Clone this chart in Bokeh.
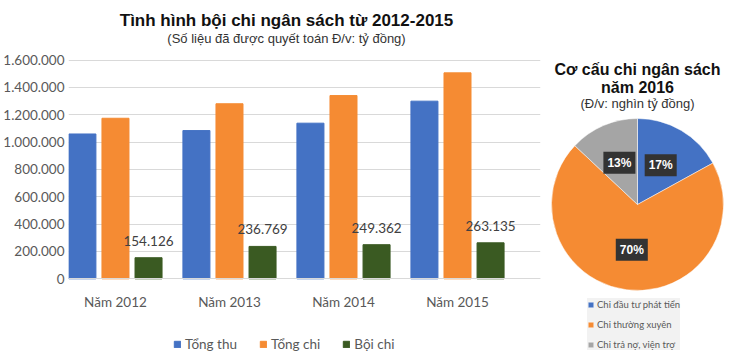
import math
from bokeh.plotting import figure
from bokeh.models import (ColumnDataSource, FixedTicker, CustomJSTickFormatter, Label,
                          LabelSet, Legend, LegendItem, Range1d, LinearAxis)
from bokeh.core.properties import value
from bokeh.layouts import row
from bokeh.transform import dodge
from bokeh.embed import file_html
from bokeh.resources import INLINE

# ---------------- data ----------------
years = ["Năm 2012", "Năm 2013", "Năm 2014", "Năm 2015"]
tong_thu = [1059000, 1084000, 1138000, 1299000]
tong_chi = [1174000, 1280000, 1340000, 1506000]
boi_chi = [154126, 236769, 249362, 263135]
series_names = ["Tổng thu", "Tổng chi", "Bội chi"]
series_colors = ["#4472C4", "#F58B33", "#3A5A22"]
y_ticks = [0, 200000, 400000, 600000, 800000, 1000000, 1200000, 1400000, 1600000]

bar_title = "Tình hình bội chi ngân sách từ 2012-2015"
bar_subtitle = "(Số liệu đã được quyết toán Đ/v: tỷ đồng)"

pie_labels = ["Chi đầu tư phát tiển", "Chi thường xuyên", "Chi trả nợ, viện trợ"]
pie_values = [17, 70, 13]
pie_colors = ["#4472C4", "#F58B33", "#A5A5A5"]
pie_title1 = "Cơ cấu chi ngân sách"
pie_title2 = "năm 2016"
pie_subtitle = "(Đ/v: nghìn tỷ đồng)"

TXT = "#595959"
UI = "Lato"
HEAD = "Liberation Sans"
H = 362

# ---------------- bar chart ----------------
xs = list(range(len(years)))
src = ColumnDataSource(dict(
    x=xs, thu=tong_thu, chi=tong_chi, boi=boi_chi,
    boi_txt=[f"{v:,}".replace(",", ".") for v in boi_chi],
))

upp = 1600000 / 218.8   # value units per pixel
p = figure(width=545, height=H, output_backend="svg", toolbar_location=None,
           x_range=Range1d(-0.412, 3.728),
           y_range=Range1d(-83.7 * upp, 1600000 + 59.5 * upp),
           x_axis_location=None,
           min_border_left=68, min_border_right=5, min_border_top=0,
           min_border_bottom=0)
p.frame_align = False
p.outline_line_color = None
p.background_fill_color = "white"
p.border_fill_color = "white"
p.title.visible = False

bw = 0.237
off = 0.29
r1 = p.vbar(x=dodge("x", -off, range=p.x_range), top="thu", width=bw, source=src,
            color=series_colors[0])
r2 = p.vbar(x=dodge("x", 0, range=p.x_range), top="chi", width=bw, source=src,
            color=series_colors[1])
r3 = p.vbar(x=dodge("x", off, range=p.x_range), top="boi", width=bw, source=src,
            color=series_colors[2])

labels = LabelSet(x=dodge("x", off, range=p.x_range), y="boi", text="boi_txt", source=src,
                  text_align="center", text_baseline="bottom", y_offset=12,
                  text_font=value(UI), text_font_size=value("13.5px"), text_color="#404040")
p.add_layout(labels)

p.xgrid.grid_line_color = None
p.ygrid.grid_line_color = "#D9D9D9"
p.ygrid.ticker = FixedTicker(ticks=y_ticks)

p.yaxis.ticker = FixedTicker(ticks=y_ticks)
p.yaxis.formatter = CustomJSTickFormatter(code="""
    return Math.round(tick).toString().replace(/\\B(?=(\\d{3})+(?!\\d))/g, '.');
""")
p.yaxis.axis_line_color = None
p.yaxis.major_tick_line_color = None
p.yaxis.minor_tick_line_color = None
p.yaxis.major_tick_out = 0
p.yaxis.minor_tick_out = 0
p.yaxis.major_label_text_font = UI
p.yaxis.major_label_text_font_size = "13.5px"
p.yaxis.major_label_text_color = TXT
p.yaxis.major_label_standoff = 4

xaxis = LinearAxis(fixed_location=0, ticker=FixedTicker(ticks=xs),
                   major_label_overrides={i: y for i, y in zip(xs, years)})
xaxis.axis_line_color = "#D9D9D9"
xaxis.major_tick_line_color = None
xaxis.minor_tick_line_color = None
xaxis.major_tick_out = 0
xaxis.minor_tick_out = 0
xaxis.major_label_text_font = UI
xaxis.major_label_text_font_size = "13.5px"
xaxis.major_label_text_color = TXT
xaxis.major_label_standoff = 15
p.add_layout(xaxis, "below")

leg = Legend(items=[LegendItem(label=n, renderers=[r]) for n, r in zip(series_names, [r1, r2, r3])],
             orientation="horizontal", location=(105, 10))
leg.background_fill_alpha = 0
leg.border_line_color = None
leg.label_text_font = UI
leg.label_text_font_size = "13.5px"
leg.label_text_color = TXT
leg.glyph_width = 8
leg.glyph_height = 8
leg.label_standoff = 4
leg.spacing = 22
leg.padding = 2
leg.margin = 0
p.add_layout(leg)

p.add_layout(Label(x=218, y=H - 20, x_units="screen", y_units="screen", text=bar_title,
                   text_align="center", text_baseline="middle", text_font=HEAD,
                   text_font_style="bold", text_font_size="17px", text_color="#111111"))
p.add_layout(Label(x=218, y=H - 38, x_units="screen", y_units="screen", text=bar_subtitle,
                   text_align="center", text_baseline="middle", text_font=HEAD,
                   text_font_size="13px", text_color="#333333"))

# ---------------- pie chart ----------------
PW = 185
q = figure(width=PW, height=H, output_backend="svg", toolbar_location=None,
           x_range=Range1d(0, PW), y_range=Range1d(0, H), min_border=0)
q.frame_align = False
q.title.visible = False
q.axis.visible = False
q.grid.grid_line_color = None
q.outline_line_color = None

cx, cy, rad = 92, 158, 86
total = sum(pie_values)
starts, ends, lx, ly, ptxt = [], [], [], [], []
cum = 0
for v in pie_values:
    a0 = 2 * math.pi * cum / total
    cum += v
    a1 = 2 * math.pi * cum / total
    starts.append(math.pi / 2 - a0)
    ends.append(math.pi / 2 - a1)
    m = (a0 + a1) / 2
    lx.append(cx + 0.53 * rad * math.sin(m))
    ly.append(cy + 0.53 * rad * math.cos(m))
    ptxt.append(f"{round(100 * v / total)}%")

psrc = ColumnDataSource(dict(label=pie_labels, value=pie_values, start=starts, end=ends,
                             color=pie_colors, lx=lx, ly=ly, txt=ptxt,
                             cx=[cx] * len(pie_values), cy=[cy] * len(pie_values)))
w = q.wedge(x="cx", y="cy", radius=rad, start_angle="start", end_angle="end",
            direction="clock", fill_color="color", line_color="white", line_width=0.5,
            source=psrc)

q.text(x="lx", y="ly", text="txt", source=psrc, text_align="center",
       text_baseline="middle", text_color="white", text_font=value(HEAD),
       text_font_style="bold", text_font_size="12px",
       background_fill_color="#333333", padding=4)

q.add_layout(Label(x=cx, y=H - 69, text=pie_title1, text_align="center", text_baseline="middle",
                   text_font=HEAD, text_font_style="bold", text_font_size="16px",
                   text_color="#111111"))
q.add_layout(Label(x=cx, y=H - 87, text=pie_title2, text_align="center", text_baseline="middle",
                   text_font=HEAD, text_font_style="bold", text_font_size="16px",
                   text_color="#111111"))
q.add_layout(Label(x=cx, y=H - 103, text=pie_subtitle, text_align="center", text_baseline="middle",
                   text_font=HEAD, text_font_size="13px", text_color="#333333"))

pleg = Legend(items=[LegendItem(label=l, renderers=[w], index=i) for i, l in enumerate(pie_labels)],
              location=(42, 12))
pleg.background_fill_color = "#F2F2F2"
pleg.background_fill_alpha = 1
pleg.border_line_color = None
pleg.label_text_font = UI
pleg.label_text_font_size = "9.5px"
pleg.label_text_color = TXT
pleg.glyph_width = 7
pleg.glyph_height = 7
pleg.label_height = 12
pleg.label_standoff = 3
pleg.spacing = 8
pleg.padding = 4
pleg.margin = 0
q.add_layout(pleg)

layout = row(p, q)
open("out.html", "w").write(file_html(layout, INLINE))
